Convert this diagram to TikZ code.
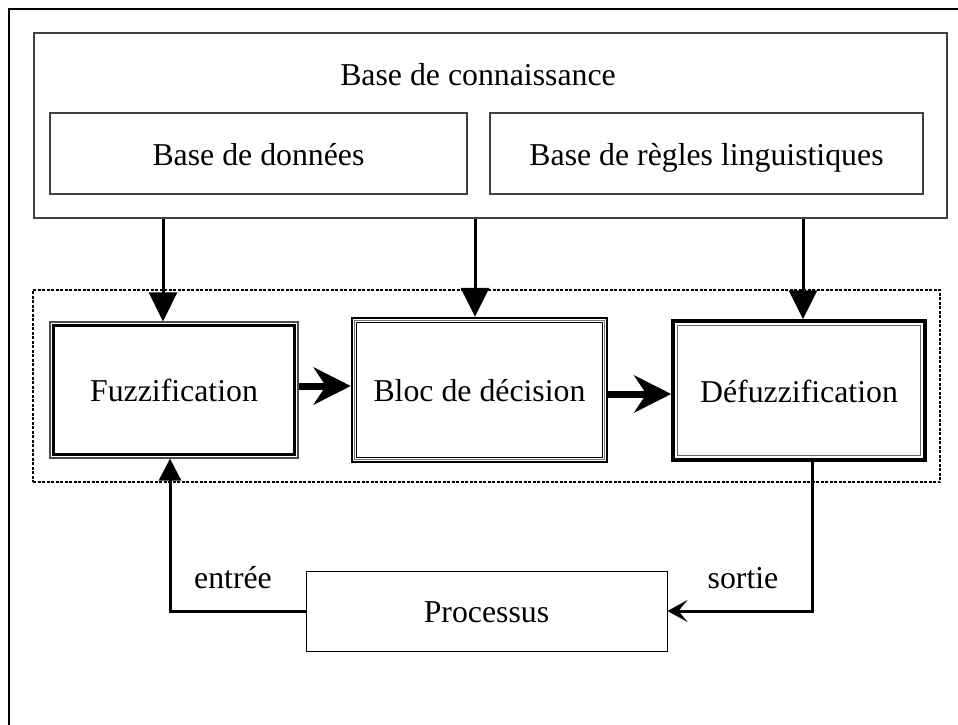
\documentclass[tikz,border=0pt]{standalone}
\usepackage{fontspec}
\setmainfont{Liberation Serif}
\usetikzlibrary{arrows.meta}

\begin{document}
\begin{tikzpicture}[x=1pt, y=-1pt,
    font=\fontsize{31.8}{38}\selectfont,
    box/.style={rectangle, inner sep=0pt, text height=31pt, text depth=8pt},
    kbbox/.style={box, draw=black!75, line width=1.1pt},
    kbarrow/.style={line width=3pt, -{Triangle[length=29pt, width=28pt]}},
    bigarrow/.style={line width=7pt, -{Stealth[length=37pt, width=37pt, inset=12pt]}},
    looparrow/.style={line width=3pt}]

    % Cadre (coupé à droite et en bas)
    \useasboundingbox (0,0) rectangle (958,725);
    \clip (0,0) rectangle (958,725);
    \draw[line width=2pt] (9,9) rectangle (1000,800);

    % Base de connaissance
    \node[kbbox, minimum width=913pt, minimum height=185pt] (kb) at (490.5,125.5) {};
    \node[anchor=base] (kbtitle) at (478,85) {Base de connaissance};
    \node[kbbox, minimum width=417pt, minimum height=81pt] (data) at (258.5,153.5) {Base de données};
    \node[kbbox, minimum width=433pt, minimum height=81pt] (rules) at (706.5,153.5) {Base de règles linguistiques};

    % Contrôleur flou (cadre en pointillés)
    \node[rectangle, draw, line width=2pt, dash pattern=on 3pt off 1.5pt,
        minimum width=907pt, minimum height=192pt] (ctrl) at (486.5,386) {};

    % Fuzzification : trait fin dehors, trait épais dedans
    \node[box, draw=black!70, line width=1.2pt, minimum width=248pt, minimum height=136pt] (fuzz) at (174,390) {Fuzzification};
    \draw[line width=3pt] ([shift={(4,4)}]fuzz.north west) rectangle ([shift={(-4,-4)}]fuzz.south east);

    % Bloc de décision : trois traits
    \node[box, draw, line width=2.5pt, minimum width=255pt, minimum height=144pt] (bloc) at (479.5,390) {Bloc de décision};
    \draw[line width=0.8pt, black!55] ([shift={(3.5,3.5)}]bloc.north west) rectangle ([shift={(-3.5,-3.5)}]bloc.south east);
    \draw[line width=1pt] ([shift={(5.5,5.5)}]bloc.north west) rectangle ([shift={(-5.5,-5.5)}]bloc.south east);

    % Défuzzification : trait épais dehors, trait fin dedans
    \node[box, draw, line width=3.5pt, minimum width=252pt, minimum height=139pt] (defuzz) at (799,390.5) {Défuzzification};
    \draw[line width=1pt, black!60] ([shift={(6,6)}]defuzz.north west) rectangle ([shift={(-6,-6)}]defuzz.south east);

    % Processus
    \node[box, draw, line width=1pt, minimum width=361pt, minimum height=80pt] (proc) at (486.5,611) {Processus};

    % Flèches depuis la base de connaissance
    \draw[kbarrow] (kb.south -| 163,0) -- (fuzz.north -| 163,0);
    \draw[kbarrow] (kb.south -| 475,0) -- (bloc.north -| 475,0);
    \draw[kbarrow] (kb.south -| 803,0) -- (defuzz.north -| 803,0);

    % Chaîne principale
    \draw[bigarrow] (fuzz.east |- 0,386) -- (bloc.west |- 0,386);
    \draw[bigarrow] (bloc.east |- 0,394) -- (defuzz.west |- 0,394);

    % Boucle avec le processus
    \draw[looparrow, -{Stealth[length=20pt, width=22pt, inset=9pt]}]
        (defuzz.south -| 812,0) |- (proc.east);
    \draw[looparrow, -{Triangle[length=22pt, width=22pt]}]
        (proc.west) -| (fuzz.south -| 170,0);

    % Étiquettes
    \node[anchor=base] (in) at (233,588) {entrée};
    \node[anchor=base] (out) at (743,588) {sortie};

\end{tikzpicture}
\end{document}
